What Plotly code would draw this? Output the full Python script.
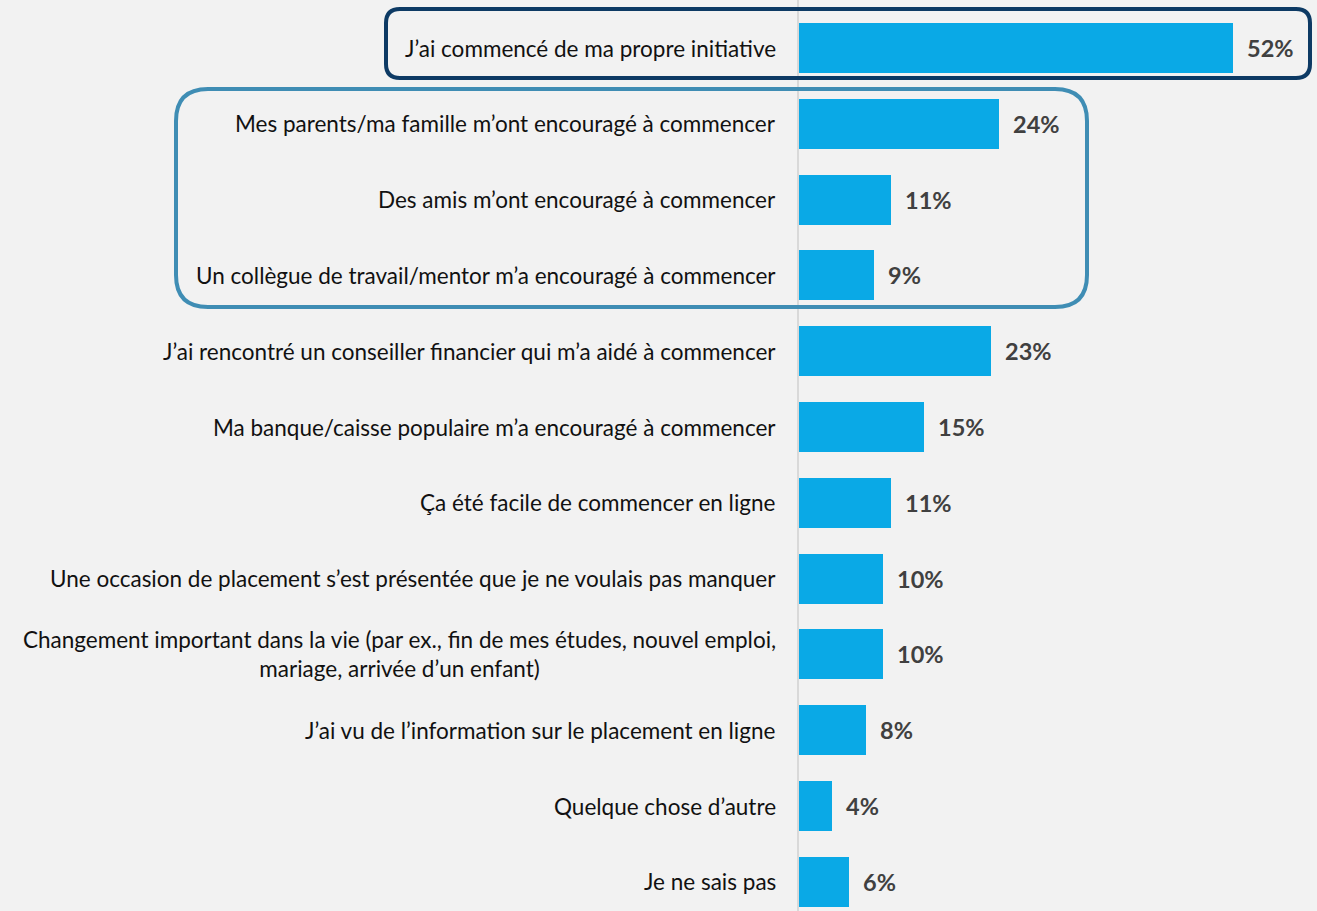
import plotly.graph_objects as go

categories = [
    "J’ai commencé de ma propre initiative",
    "Mes parents/ma famille m’ont encouragé à commencer",
    "Des amis m’ont encouragé à commencer",
    "Un collègue de travail/mentor m’a encouragé à commencer",
    "J’ai rencontré un conseiller financier qui m’a aidé à commencer",
    "Ma banque/caisse populaire m’a encouragé à commencer",
    "Ça été facile de commencer en ligne",
    "Une occasion de placement s’est présentée que je ne voulais pas manquer",
    "Changement important dans la vie (par ex., fin de mes études, nouvel emploi,<br>mariage, arrivée d’un enfant)",
    "J’ai vu de l’information sur le placement en ligne",
    "Quelque chose d’autre",
    "Je ne sais pas",
]
values = [52, 24, 11, 9, 23, 15, 11, 10, 10, 8, 4, 6]
value_labels = [f"{v}%" for v in values]

W, H = 1317, 911
ML = 799
PW = W - ML
BAR_COLOR = "#0AA9E6"
FONT = "Lato"

idx = list(range(len(categories)))

fig = go.Figure()
fig.add_trace(go.Bar(
    x=values, y=idx, orientation="h",
    marker=dict(color=BAR_COLOR, line=dict(width=0)),
    width=0.66, hoverinfo="skip",
))

annotations = []
for i, (c, v, t) in enumerate(zip(categories, values, value_labels)):
    annotations.append(dict(
        x=0, y=i, xref="x", yref="y", text=c, showarrow=False,
        xanchor="right", yanchor="middle", align="center", xshift=-21,
        font=dict(family=FONT, size=22.5, color="#111111"),
    ))
    annotations.append(dict(
        x=v, y=i, xref="x", yref="y", text=f"<b>{t}</b>", showarrow=False,
        xanchor="left", yanchor="middle", xshift=12,
        font=dict(family=FONT, size=23.5, color="#404040"),
    ))


def px_x(p):
    return (p - ML) / PW


def px_y(p):
    return 1 - p / H


def rrect(x0, y0, x1, y1, r):
    pts = [
        ("M", x0 + r, y0), ("L", x1 - r, y0), ("Q", x1, y0, x1, y0 + r),
        ("L", x1, y1 - r), ("Q", x1, y1, x1 - r, y1), ("L", x0 + r, y1),
        ("Q", x0, y1, x0, y1 - r), ("L", x0, y0 + r), ("Q", x0, y0, x0 + r, y0),
    ]
    out = []
    for p in pts:
        if p[0] == "Q":
            out.append(f"Q{px_x(p[1])},{px_y(p[2])} {px_x(p[3])},{px_y(p[4])}")
        else:
            out.append(f"{p[0]}{px_x(p[1])},{px_y(p[2])}")
    return " ".join(out) + " Z"


shapes = [
    dict(type="path", xref="paper", yref="paper", path=rrect(386, 9, 1310, 78, 14),
         line=dict(color="#0D3A64", width=4), layer="above"),
    dict(type="path", xref="paper", yref="paper", path=rrect(176, 89, 1087, 307, 32),
         line=dict(color="#3F8DB4", width=4), layer="above"),
]

spacing = 75.8
top = -48 / spacing
bottom = (H - 48) / spacing

fig.update_layout(
    width=W, height=H,
    margin=dict(l=ML, r=0, t=0, b=0),
    paper_bgcolor="#F2F2F2", plot_bgcolor="#F2F2F2",
    showlegend=False,
    bargap=0,
    xaxis=dict(range=[0, PW / 8.35], visible=False, fixedrange=True),
    yaxis=dict(range=[bottom, top], showticklabels=False, showgrid=False,
               zeroline=False, showline=True, linecolor="#D9D9D9", linewidth=2,
               fixedrange=True),
    annotations=annotations,
    shapes=shapes,
)

fig.write_html(
    "out.html",
    config={"displayModeBar": False},
    post_script="document.body.style.margin='0';document.body.style.background='#F2F2F2';",
)
